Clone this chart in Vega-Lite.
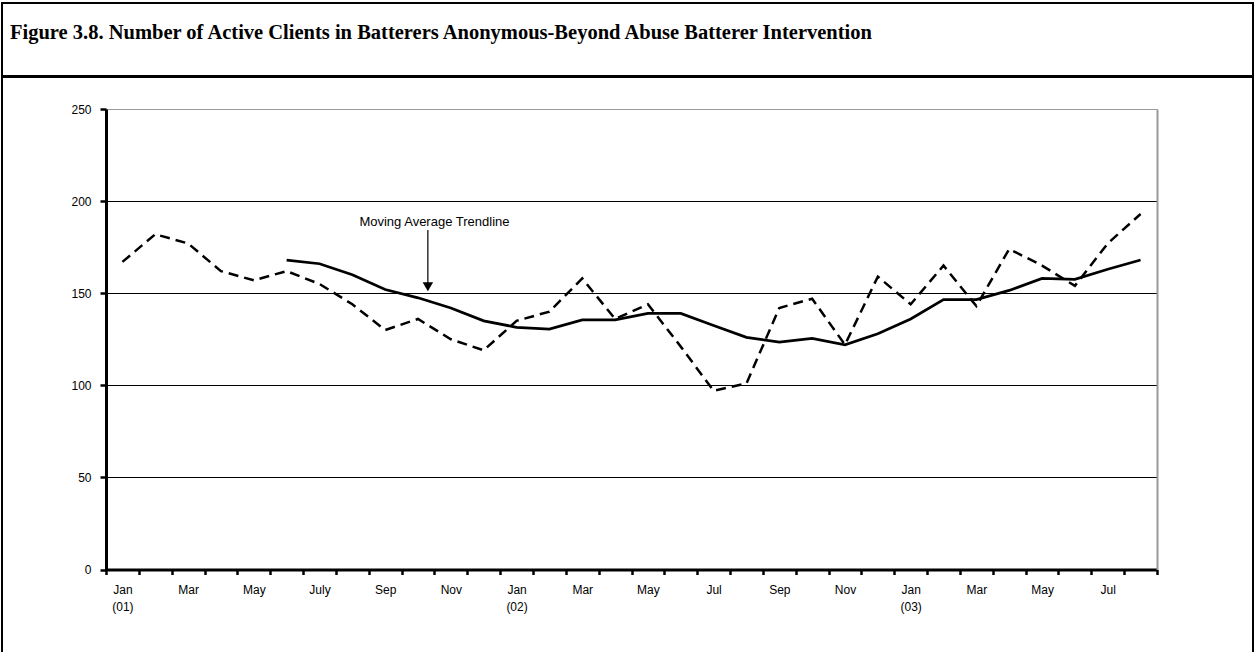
{
  "$schema": "https://vega.github.io/schema/vega-lite/v6.json",
  "padding": {"left": 1, "top": 2, "right": 0, "bottom": 0},
  "background": "white",
  "spacing": -2,
  "config": {
    "view": {"stroke": "black", "strokeWidth": 2},
    "font": "Liberation Sans"
  },
  "datasets": {
    "clients": [
      {"m": "2001-01", "clients": 167},
      {"m": "2001-02", "clients": 182},
      {"m": "2001-03", "clients": 177},
      {"m": "2001-04", "clients": 162},
      {"m": "2001-05", "clients": 157},
      {"m": "2001-06", "clients": 162, "ma": 168},
      {"m": "2001-07", "clients": 155, "ma": 166},
      {"m": "2001-08", "clients": 144, "ma": 160},
      {"m": "2001-09", "clients": 130, "ma": 152},
      {"m": "2001-10", "clients": 136, "ma": 147.5},
      {"m": "2001-11", "clients": 125, "ma": 142},
      {"m": "2001-12", "clients": 119, "ma": 135},
      {"m": "2002-01", "clients": 135, "ma": 131.5},
      {"m": "2002-02", "clients": 140, "ma": 130.5},
      {"m": "2002-03", "clients": 158, "ma": 135.5},
      {"m": "2002-04", "clients": 136, "ma": 135.5},
      {"m": "2002-05", "clients": 144, "ma": 139},
      {"m": "2002-06", "clients": 121, "ma": 139},
      {"m": "2002-07", "clients": 97, "ma": 132.5},
      {"m": "2002-08", "clients": 101, "ma": 126},
      {"m": "2002-09", "clients": 142, "ma": 123.5},
      {"m": "2002-10", "clients": 147, "ma": 125.5},
      {"m": "2002-11", "clients": 122, "ma": 122},
      {"m": "2002-12", "clients": 159, "ma": 128},
      {"m": "2003-01", "clients": 144, "ma": 136},
      {"m": "2003-02", "clients": 165, "ma": 146.5},
      {"m": "2003-03", "clients": 143, "ma": 146.5},
      {"m": "2003-04", "clients": 174, "ma": 151.5},
      {"m": "2003-05", "clients": 165, "ma": 158},
      {"m": "2003-06", "clients": 154, "ma": 157.5},
      {"m": "2003-07", "clients": 177, "ma": 163},
      {"m": "2003-08", "clients": 193, "ma": 168}
    ],
    "note": [
      {"m": "2001-11", "label": "Moving Average Trendline", "v": 186.5}
    ],
    "arrow": [
      {"m": "2001-10", "top": 184.3, "bottom": 155, "head": 153.5}
    ],
    "frame": [
      {"part": "title box"}
    ]
  },
  "vconcat": [
    {
      "width": 1251,
      "height": 73,
      "title": {
        "text": "Figure 3.8. Number of Active Clients in Batterers Anonymous-Beyond Abuse Batterer Intervention",
        "anchor": "start",
        "frame": "group",
        "offset": -57,
        "dx": 8,
        "baseline": "alphabetic",
        "font": "Liberation Serif",
        "fontSize": 20.5,
        "fontWeight": "bold",
        "color": "black"
      },
      "layer": [
        {
          "data": {"name": "frame"},
          "mark": {"type": "rect", "fill": null, "stroke": "black", "strokeWidth": 2}
        }
      ]
    },
    {
      "width": 1251,
      "height": 579,
      "data": {"name": "clients"},
      "encoding": {
        "x": {
          "field": "m",
          "type": "ordinal",
          "title": null,
          "scale": {"type": "band", "range": [104, 1155], "paddingInner": 0, "paddingOuter": 0},
          "axis": {
            "orient": "bottom",
            "offset": -86.5,
            "title": null,
            "grid": false,
            "domainColor": "black",
            "domainWidth": 3,
            "tickBand": "extent",
            "tickColor": "black",
            "tickWidth": 2.5,
            "tickSize": 5,
            "labelExpr": "substring(datum.value,5,7) == '01' ? ['Jan', '(' + substring(datum.value,2,4) + ')'] : datum.value == '2001-07' ? 'July' : ['','','Mar','','May','','Jul','','Sep','','Nov',''][toNumber(substring(datum.value,5,7)) - 1]",
            "labelFontSize": 12,
            "labelLineHeight": 17,
            "labelPadding": 10,
            "labelColor": "black",
            "labelAngle": 0,
            "labelOverlap": false
          }
        }
      },
      "layer": [
        {
          "mark": {"type": "line", "stroke": "black", "strokeWidth": 2.5, "strokeDash": [10, 6]},
          "encoding": {
            "y": {
              "field": "clients",
              "type": "quantitative",
              "title": null,
              "scale": {"domain": [0, 250], "nice": false, "range": [492.5, 32]},
              "axis": {
                "orient": "left",
                "offset": -104,
                "values": [0, 50, 100, 150, 200, 250],
                "title": null,
                "domainColor": "black",
                "domainWidth": 3,
                "tickColor": "black",
                "tickWidth": 2.5,
                "tickSize": 6,
                "labelFontSize": 12,
                "labelColor": "black",
                "labelPadding": 9,
                "grid": true,
                "gridColor": {"condition": {"test": "datum.value === 250", "value": "#9a9a9a"}, "value": "black"},
                "gridWidth": 1
              }
            }
          }
        },
        {
          "mark": {"type": "line", "stroke": "black", "strokeWidth": 2.75},
          "encoding": {
            "y": {
              "field": "ma",
              "type": "quantitative",
              "title": null,
              "axis": {
                "orient": "right",
                "offset": -96,
                "title": null,
                "domainColor": "#9a9a9a",
                "domainWidth": 2,
                "ticks": false,
                "labels": false,
                "grid": false
              }
            }
          }
        },
        {
          "data": {"name": "arrow"},
          "mark": {"type": "rule", "stroke": "black", "strokeWidth": 1.2},
          "encoding": {
            "x": {"field": "m", "type": "ordinal", "bandPosition": 0.8, "title": null},
            "y": {"field": "top", "type": "quantitative", "axis": null},
            "y2": {"field": "bottom"}
          }
        },
        {
          "data": {"name": "arrow"},
          "mark": {"type": "point", "shape": "triangle-down", "filled": true, "color": "black", "size": 110, "opacity": 1},
          "encoding": {
            "x": {"field": "m", "type": "ordinal", "bandPosition": 0.8, "title": null},
            "y": {"field": "head", "type": "quantitative", "axis": null}
          }
        },
        {
          "data": {"name": "note"},
          "mark": {"type": "text", "align": "center", "baseline": "alphabetic", "fontSize": 13, "color": "black"},
          "encoding": {
            "x": {"field": "m", "type": "ordinal", "bandPosition": 0, "title": null},
            "y": {"field": "v", "type": "quantitative", "axis": null},
            "text": {"field": "label"}
          }
        }
      ],
      "resolve": {"axis": {"y": "independent"}}
    }
  ]
}
